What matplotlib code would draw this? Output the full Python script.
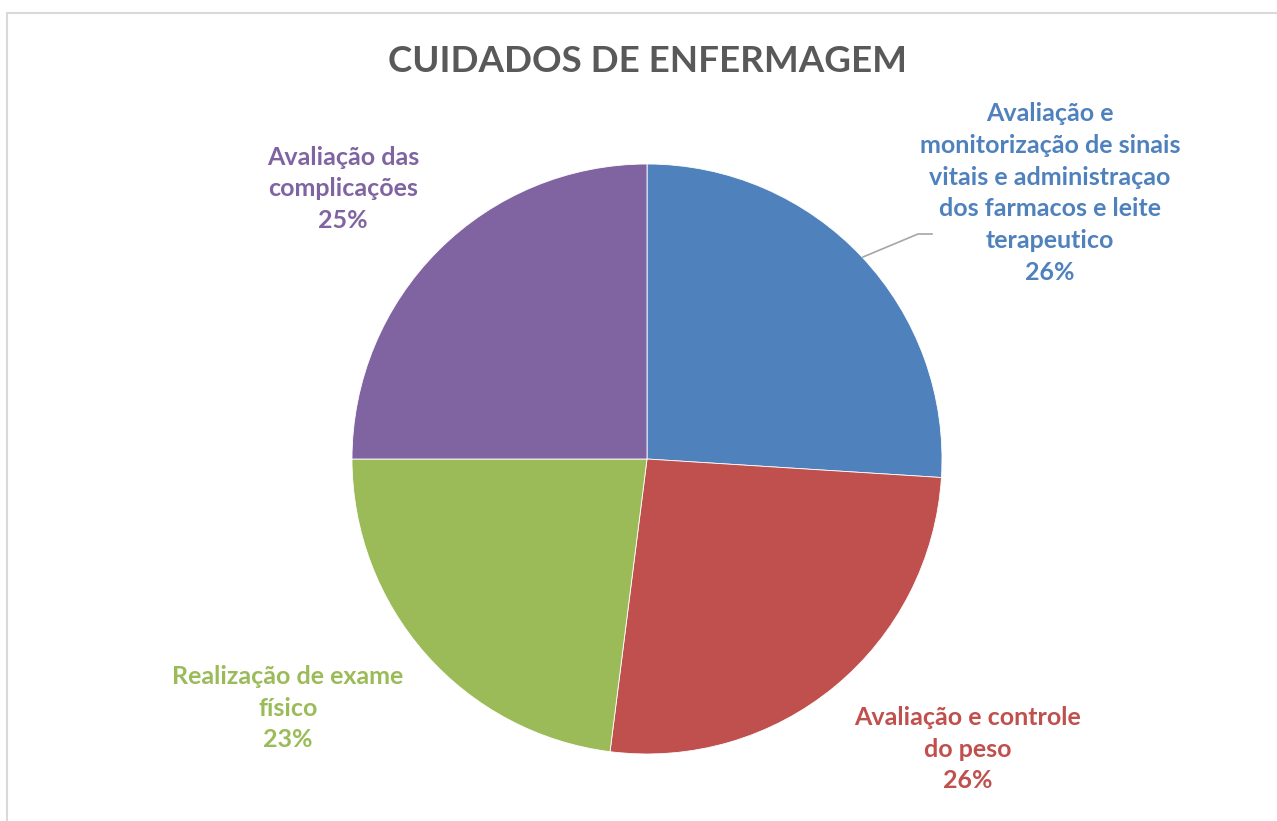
import matplotlib.pyplot as plt
from matplotlib.lines import Line2D

# Data
categories = [
    "Avaliação e\nmonitorização de sinais\nvitais e administraçao\ndos farmacos e leite\nterapeutico",
    "Avaliação e controle\ndo peso",
    "Realização de exame\nfísico",
    "Avaliação das\ncomplicações",
]
values = [26, 26, 23, 25]
colors = ["#4F81BD", "#C0504D", "#9BBB59", "#8064A2"]
title = "CUIDADOS DE ENFERMAGEM"

# label centers in pixels (reference image coords)
label_pos = [(1050, 193), (968, 749), (288, 708), (343, 189)]

W, H = 1277, 821
cx, cy, R = 647, 459, 295

plt.rcParams['font.family'] = ['Lato', 'DejaVu Sans']

fig = plt.figure(figsize=(W / 100, H / 100), dpi=100)

# outer chart border (left and top visible)
fig.add_artist(Line2D([7 / W, 7 / W], [0, 1 - 13 / H], color="#d9d9d9", lw=1.5))
fig.add_artist(Line2D([7 / W, 1], [1 - 13 / H, 1 - 13 / H], color="#d9d9d9", lw=1.5))

ax = fig.add_axes([(cx - R) / W, (H - cy - R) / H, 2 * R / W, 2 * R / H])
ax.pie(values, colors=colors, startangle=90, counterclock=False, radius=1,
       wedgeprops=dict(linewidth=0.6, edgecolor="white"))
ax.set_xlim(-1, 1)
ax.set_ylim(-1, 1)
ax.set_aspect('auto')
ax.axis('off')


def px(x, y):
    return (x - cx) / R, (cy - y) / R


total = sum(values)
for cat, v, col, (lx, ly) in zip(categories, values, colors, label_pos):
    x, y = px(lx, ly)
    ax.text(x, y, f"{cat}\n{round(100 * v / total)}%", color=col, ha="center", va="center",
            fontsize=18, fontweight="bold", linespacing=1.47, clip_on=False)

# leader line for first label
lx, ly = zip(px(863, 257), px(918, 234), px(932, 234))
ax.plot(lx, ly, color="#a6a6a6", lw=1.2, clip_on=False)

fig.text(647 / W, 1 - 62 / H, title, ha="center", va="center", fontsize=26.5,
         fontweight="bold", color="#595959")

fig.savefig("out.png", dpi=100)
